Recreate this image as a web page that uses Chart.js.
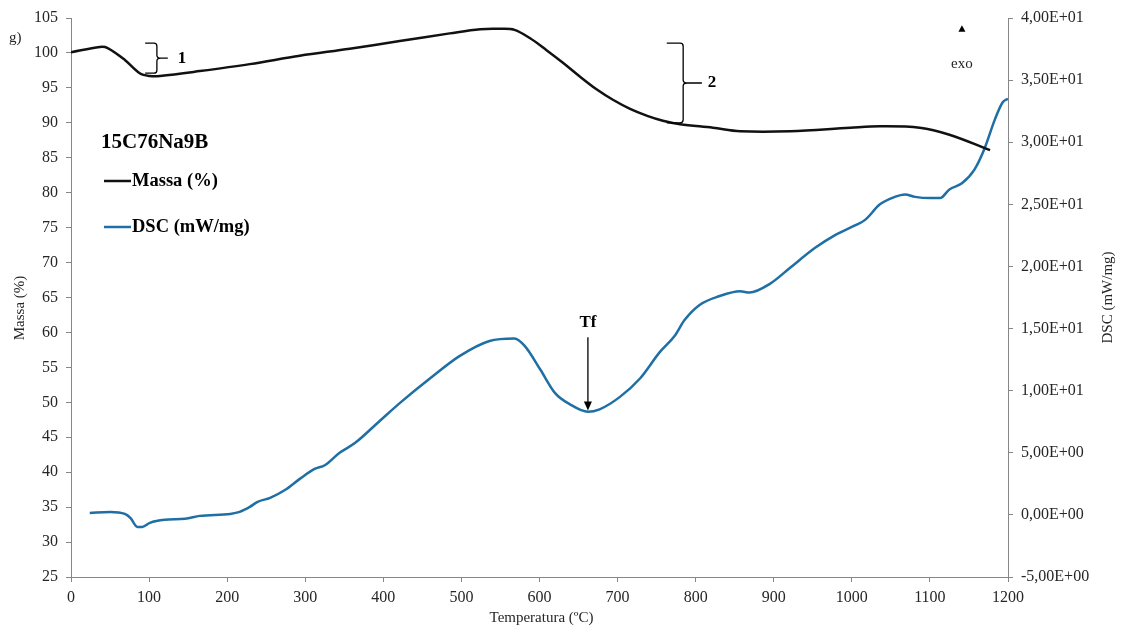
<!DOCTYPE html>
<html>
<head>
<meta charset="utf-8">
<script src="https://cdn.jsdelivr.net/npm/chart.js@4.4.1/dist/chart.umd.min.js"></script>
<style>
  html, body { margin: 0; padding: 0; background: #ffffff; }
  #wrap { width: 1129px; height: 632px; }
</style>
</head>
<body>
<div id="wrap"><canvas id="c" width="1129" height="632"></canvas></div>
<script>
// Temperature (°C) and sample mass (%) from the thermogravimetric run
const massTemp = [0, 37, 47, 69, 88, 101, 114, 165, 229, 293, 357, 421, 485, 524, 550, 568, 588, 609, 630, 652, 673, 694, 716, 738, 758, 780, 822, 857, 921, 998, 1036, 1087, 1125, 1177];
const massPct  = [100.1, 100.85, 100.7, 99.0, 97.1, 96.7, 96.7, 97.4, 98.4, 99.6, 100.6, 101.7, 102.8, 103.4, 103.45, 103.3, 102.1, 100.4, 98.6, 96.6, 94.8, 93.3, 92.0, 91.0, 90.3, 89.8, 89.3, 88.8, 88.8, 89.3, 89.5, 89.3, 88.3, 86.1];

// Temperature (°C) and DSC heat flow (mW/mg)
const dscTemp = [24, 50, 69, 76, 85, 91, 101, 120, 146, 165, 204, 216, 229, 239, 255, 274, 293, 312, 325, 344, 364, 396, 421, 460, 498, 536, 568, 581, 601, 620, 639, 662, 677, 703, 729, 754, 773, 786, 805, 830, 857, 869, 895, 921, 953, 978, 1004, 1017, 1036, 1055, 1068, 1081, 1100, 1113, 1125, 1141, 1157, 1170, 1183, 1193, 1200];
const dscFlow = [0.16, 0.24, 0.08, -0.24, -0.97, -0.97, -0.64, -0.40, -0.32, -0.08, 0.08, 0.24, 0.64, 1.05, 1.37, 2.0, 2.9, 3.7, 4.0, 5.0, 5.8, 7.6, 9.0, 11.0, 12.8, 14.0, 14.2, 13.6, 11.7, 9.8, 8.9, 8.3, 8.5, 9.5, 11.0, 13.1, 14.4, 15.7, 16.9, 17.6, 18.0, 17.9, 18.6, 19.9, 21.5, 22.5, 23.3, 23.75, 25.0, 25.6, 25.8, 25.6, 25.5, 25.5, 26.2, 26.7, 27.8, 29.5, 31.8, 33.2, 33.5];

// Axis ranges
const tempRange = [0, 1200];
const massRange = [25, 105];
const dscRange = [-5, 40];

const seriesNames = ['Massa (%)', 'DSC (mW/mg)'];
const sampleName = '15C76Na9B';

const AXIS = '#868686';
const TXT = '#262626';
const SERIF = '"Liberation Serif", "Times New Roman", serif';
const MASS_COLOR = '#111111';
const DSC_COLOR = '#1F6FA5';

function sci(v) {
  if (v === 0) return '0,00E+00';
  const e = Math.floor(Math.log10(Math.abs(v)) + 1e-9);
  const m = v / Math.pow(10, e);
  const es = (e < 0 ? '-' : '+') + String(Math.abs(e)).padStart(2, '0');
  return m.toFixed(2).replace('.', ',') + 'E' + es;
}

// Legend, axis titles and thermal-event annotations
const decor = {
  id: 'decor',
  afterDraw(chart) {
    const ctx = chart.ctx;
    const sx = chart.scales.x, sy = chart.scales.y, s2 = chart.scales.y2;
    const ca = chart.chartArea;
    ctx.save();

    // axis titles
    ctx.fillStyle = TXT;
    ctx.font = '15px ' + SERIF;
    ctx.textAlign = 'center';
    ctx.textBaseline = 'middle';
    ctx.fillText('Temperatura (ºC)', (ca.left + ca.right) / 2 + 2, 618);
    ctx.save();
    ctx.translate(20, sy.getPixelForValue(63.5));
    ctx.rotate(-Math.PI / 2);
    ctx.fillText('Massa (%)', 0, 0);
    ctx.restore();
    ctx.save();
    ctx.translate(1108, s2.getPixelForValue(17.5));
    ctx.rotate(-Math.PI / 2);
    ctx.fillText('DSC (mW/mg)', 0, 0);
    ctx.restore();
    ctx.textAlign = 'left';
    ctx.fillText('g)', 9, sy.getPixelForValue(102.2));

    // sample name and series keys
    ctx.fillStyle = '#000';
    ctx.textAlign = 'left';
    ctx.font = 'bold 21px ' + SERIF;
    ctx.fillText(sampleName, 101, 143);
    ctx.font = 'bold 18.5px ' + SERIF;
    const keys = [[seriesNames[0], MASS_COLOR, 181], [seriesNames[1], DSC_COLOR, 227]];
    keys.forEach(([name, col, yy]) => {
      ctx.strokeStyle = col;
      ctx.lineWidth = 2.5;
      ctx.beginPath();
      ctx.moveTo(104, yy);
      ctx.lineTo(131, yy);
      ctx.stroke();
      ctx.fillStyle = '#000';
      ctx.fillText(name, 132, yy);
    });

    // curly braces marking the mass-loss steps
    function brace(tL, tV, tTip, mTop, mBot, label, tLabel) {
      const xl = sx.getPixelForValue(tL), xv = sx.getPixelForValue(tV), xt = sx.getPixelForValue(tTip);
      const yt = sy.getPixelForValue(mTop), yb = sy.getPixelForValue(mBot);
      const ym = (yt + yb) / 2;
      ctx.strokeStyle = '#000';
      ctx.lineWidth = 1.3;
      ctx.beginPath();
      ctx.moveTo(xl, yt);
      ctx.lineTo(xv - 3, yt);
      ctx.quadraticCurveTo(xv, yt, xv, yt + 3);
      ctx.lineTo(xv, ym - 3);
      ctx.quadraticCurveTo(xv, ym, xv + 4, ym);
      ctx.quadraticCurveTo(xv, ym, xv, ym + 3);
      ctx.lineTo(xv, yb - 3);
      ctx.quadraticCurveTo(xv, yb, xv - 3, yb);
      ctx.lineTo(xl, yb);
      ctx.moveTo(xv + 4, ym);
      ctx.lineTo(xt, ym);
      ctx.stroke();
      ctx.fillStyle = '#000';
      ctx.font = 'bold 17px ' + SERIF;
      ctx.textAlign = 'center';
      ctx.fillText(label, sx.getPixelForValue(tLabel), ym);
    }
    brace(95, 110, 124, 101.4, 97.1, '1', 142);
    brace(763, 784, 808, 101.4, 90.0, '2', 821);

    // melting temperature marker on the DSC trace
    const xf = sx.getPixelForValue(662);
    const yTop = s2.getPixelForValue(14.3), yTip = s2.getPixelForValue(8.4);
    ctx.strokeStyle = '#000';
    ctx.fillStyle = '#000';
    ctx.lineWidth = 1.3;
    ctx.beginPath();
    ctx.moveTo(xf, yTop);
    ctx.lineTo(xf, yTip - 6);
    ctx.stroke();
    ctx.beginPath();
    ctx.moveTo(xf, yTip);
    ctx.lineTo(xf - 4, yTip - 9);
    ctx.lineTo(xf + 4, yTip - 9);
    ctx.closePath();
    ctx.fill();
    ctx.font = 'bold 17px ' + SERIF;
    ctx.textAlign = 'center';
    ctx.fillText('Tf', xf, s2.getPixelForValue(15.5));

    // exothermic direction
    const xe = sx.getPixelForValue(1141);
    const ye = s2.getPixelForValue(39.1);
    ctx.beginPath();
    ctx.moveTo(xe, ye - 4);
    ctx.lineTo(xe - 3.5, ye + 2.5);
    ctx.lineTo(xe + 3.5, ye + 2.5);
    ctx.closePath();
    ctx.fill();
    ctx.fillStyle = TXT;
    ctx.font = '15px ' + SERIF;
    ctx.fillText('exo', xe, s2.getPixelForValue(36.3));

    ctx.restore();
  }
};

const tickFont = { family: SERIF, size: 16 };

new Chart(document.getElementById('c'), {
  type: 'line',
  data: {
    datasets: [
      {
        label: seriesNames[0],
        data: massTemp.map((t, i) => ({ x: t, y: massPct[i] })),
        yAxisID: 'y',
        borderColor: MASS_COLOR,
        borderWidth: 2.5,
        pointRadius: 0,
        tension: 0.35,
        fill: false
      },
      {
        label: seriesNames[1],
        data: dscTemp.map((t, i) => ({ x: t, y: dscFlow[i] })),
        yAxisID: 'y2',
        borderColor: DSC_COLOR,
        borderWidth: 2.5,
        pointRadius: 0,
        tension: 0.4,
        cubicInterpolationMode: 'monotone',
        fill: false
      }
    ]
  },
  options: {
    responsive: false,
    animation: false,
    events: [],
    layout: { padding: { top: 18, left: 0, right: 0, bottom: 0 } },
    plugins: { legend: { display: false }, tooltip: { enabled: false } },
    scales: {
      x: {
        type: 'linear',
        min: tempRange[0], max: tempRange[1],
        ticks: { stepSize: 100, color: TXT, font: tickFont, padding: 6, maxRotation: 0, callback: (v) => String(v) },
        grid: { drawOnChartArea: false, color: AXIS, tickLength: 5 },
        border: { color: AXIS, width: 1 },
        afterFit(s) { s.height = 55; }
      },
      y: {
        position: 'left',
        min: massRange[0], max: massRange[1],
        ticks: { stepSize: 5, color: TXT, font: tickFont, padding: 8 },
        grid: { drawOnChartArea: false, color: AXIS, tickLength: 5 },
        border: { color: AXIS, width: 1 },
        afterFit(s) { s.width = 71; }
      },
      y2: {
        position: 'right',
        min: dscRange[0], max: dscRange[1],
        ticks: { stepSize: 5, color: TXT, font: tickFont, padding: 8, callback: (v) => sci(v) },
        grid: { drawOnChartArea: false, color: AXIS, tickLength: 5 },
        border: { color: AXIS, width: 1 },
        afterFit(s) { s.width = 121; }
      }
    }
  },
  plugins: [decor]
});
</script>
</body>
</html>
